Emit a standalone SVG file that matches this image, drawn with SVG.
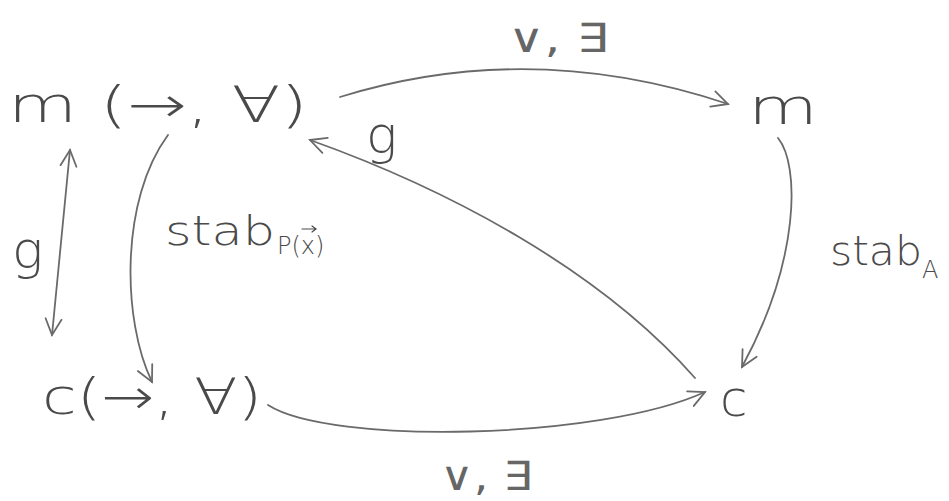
<svg xmlns="http://www.w3.org/2000/svg" width="949" height="501" viewBox="0 0 949 501">
<style>
text{font-family:"DejaVu Sans","Liberation Sans",sans-serif;fill:#4a4a4a;font-weight:300}
.node{font-size:50px}
.lab{font-size:40px}
.op{font-size:40px;font-weight:400;fill:#666}
.g{font-size:52px}
.sub{font-size:24px}
.edge{fill:none;stroke:#6a6a6a;stroke-width:1.8;stroke-linecap:round}
.vec{fill:none;stroke:#4a4a4a;stroke-width:1.2;stroke-linecap:round}
</style>
<defs>
<marker id="ah" viewBox="0 0 20 20" refX="18" refY="10" markerWidth="20" markerHeight="20" markerUnits="userSpaceOnUse" orient="auto-start-reverse">
<path d="M2,2 L18,10 L2,18" fill="none" stroke="#6a6a6a" stroke-width="1.8" stroke-linecap="round"/>
</marker>
</defs>
<rect width="949" height="501" fill="#ffffff"/>
<g id="connectors">
<path class="edge" d="M340,97 Q530,38 728,104" marker-end="url(#ah)"/>
<path class="edge" d="M778,138 C800,165 800,260 742,367" marker-end="url(#ah)"/>
<path class="edge" d="M268,405 C330,445 600,440 705,392" marker-end="url(#ah)"/>
<path class="edge" d="M695,378 C600,270 450,190 310,140" marker-end="url(#ah)"/>
<path class="edge" d="M168,135 C120,200 122,320 152,382" marker-end="url(#ah)"/>
<path class="edge" d="M70,150 L52,335" marker-start="url(#ah)" marker-end="url(#ah)"/>
</g>
<g id="labels">
<text class="op" x="508" y="52" textLength="100" lengthAdjust="spacingAndGlyphs">∨, ∃</text>
<text class="op" x="440" y="490" textLength="92" lengthAdjust="spacingAndGlyphs">∨, ∃</text>
<text class="g" x="12" y="268">g</text>
<text class="g" x="366" y="153">g</text>
<text class="lab" x="165" y="245" textLength="110" lengthAdjust="spacingAndGlyphs">stab</text>
<text class="sub" x="277" y="254">P(x)</text>
<path class="vec" d="M302,229 L316,229 M312,226 L316,229 L312,232"/>
<text class="lab" x="830" y="265" textLength="92" lengthAdjust="spacingAndGlyphs">stab</text><text class="sub" x="922" y="278">A</text>
</g>
<g id="node-m-forall"><text class="node" x="8" y="122" textLength="300" lengthAdjust="spacingAndGlyphs">m (→, ∀)</text></g>
<g id="node-m"><text class="node" x="748" y="124" textLength="70" lengthAdjust="spacingAndGlyphs">m</text></g>
<g id="node-c-forall"><text class="node" x="42" y="414" textLength="220" lengthAdjust="spacingAndGlyphs">c(→, ∀)</text></g>
<g id="node-c"><text class="node" x="720" y="416">c</text></g>
</svg>
